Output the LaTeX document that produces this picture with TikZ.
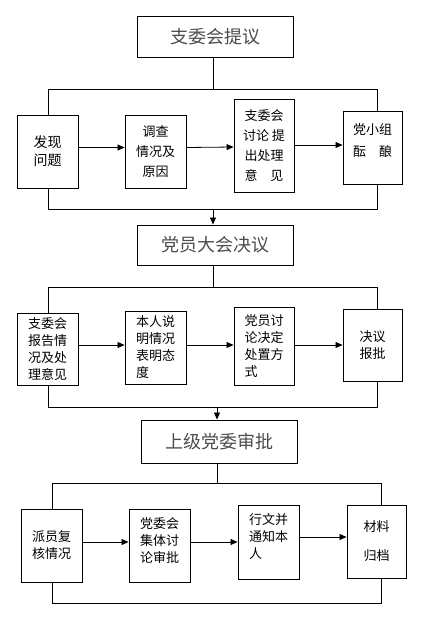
\documentclass[tikz,border=0pt]{standalone}
\usepackage{fontspec}
\newfontfamily\cjk{Noto Sans CJK SC}
\usetikzlibrary{arrows.meta}

\tikzset{
  title/.style={draw, line width=0.9pt, minimum width=156pt, inner sep=0pt,
    font=\cjk\fontsize{18}{20}\selectfont, text=black!70},
  stepbox/.style={draw, line width=0.9pt, inner sep=0pt, minimum width=61pt,
    font=\cjk\fontsize{13}{17}\selectfont},
  line/.style={line width=0.8pt},
  arr/.style={line width=0.8pt, -{Triangle[length=7pt,width=6pt]}},
}

\begin{document}
\begin{tikzpicture}[x=1pt,y=-1pt]
\useasboundingbox (0,0) rectangle (437,624);

% row 1
\node[title, minimum height=41pt] (t1) at (215,36.5) {支委会提议};

\node[stepbox, minimum height=73pt, font=\cjk\fontsize{14}{18}\selectfont, align=center] (a1) at (47.5,151.5) {发现\\问题};
\node[stepbox, minimum height=73pt, align=center, font=\cjk\fontsize{13}{20}\selectfont] (a2) at (155.5,151.5) {调查\\情况及\\原因};
\node[stepbox, minimum width=60pt, minimum height=93pt, align=center, font=\cjk\fontsize{13}{20}\selectfont] (a3) at (264,145.5) {支委会\\讨论~提\\出处理\\意\quad 见};
\node[stepbox, minimum width=59pt, minimum height=73pt, align=center, font=\cjk\fontsize{13}{22}\selectfont] (a4) at (372.5,147.5) {党小组\\酝\quad 酿\\[-8pt]~};

\coordinate (ul1) at (48,89);
\coordinate (ur1) at (377,89);
\coordinate (dl1) at (48,209);
\coordinate (dr1) at (377,209);
\coordinate (m1) at (213,209);

\draw[line] (t1.south -| m1) -- (m1 |- ul1);
\draw[line] (ul1 |- a1.north) -- (ul1) -- (ur1) -- (ur1 |- a4.north);
\draw[line] (dl1 |- a1.south) -- (dl1) -- (dr1) -- (dr1 |- a4.south);
\draw[arr] ([yshift=4pt]a1.east) -- ([yshift=4pt]a2.west);
\draw[arr] ([yshift=4pt]a2.east) -- (a3.west |- 0,147);
\draw[arr] (a3.east |- 0,145) -- (a4.west |- 0,145);

% row 2
\node[title, minimum height=40pt] (t2) at (215,245) {党员大会决议};
\draw[arr] (m1) -- (m1 |- t2.north);

\node[stepbox, minimum height=72pt, align=center] (b1) at (47.5,349) {支委会\\报告情\\况及处\\理意见};
\node[stepbox, minimum height=73pt, align=left] (b2) at (155.5,347.5) {本人说\\明情况\\表明态\\度};
\node[stepbox, minimum width=60pt, minimum height=78pt, align=left] (b3) at (264,346) {党员讨\\论决定\\处置方\\式};
\node[stepbox, minimum width=59pt, minimum height=72pt, align=left] (b4) at (372.5,345) {决议\\报批};

\coordinate (ul2) at (48,287);
\coordinate (ur2) at (377,287);
\coordinate (dl2) at (48,407);
\coordinate (dr2) at (377,407);
\coordinate (m2) at (217,407);

\draw[line] (t2.south -| m1) -- (m1 |- ul2);
\draw[line] (ul2 |- b1.north) -- (ul2) -- (ur2) -- (ur2 |- b4.north);
\draw[line] (dl2 |- b1.south) -- (dl2) -- (dr2) -- (dr2 |- b4.south);
\draw[arr] (b1.east |- 0,345) -- (b2.west |- 0,345);
\draw[arr] (b2.east |- 0,345) -- (b3.west |- 0,345);
\draw[arr] (b3.east |- 0,345) -- (b4.west |- 0,345);

% row 3
\node[title, minimum height=43pt] (t3) at (219,441.5) {上级党委审批};
\draw[arr] (m2) -- (m2 |- t3.north);

\node[stepbox, minimum height=73pt, align=left] (c1) at (51.5,545.5) {派员复\\核情况};
\node[stepbox, minimum height=73pt, align=left] (c2) at (159.5,545.5) {党委会\\集体讨\\论审批\\[-6pt]~};
\node[stepbox, minimum height=74pt, align=left] (c3) at (268.5,542) {行文并\\通知本\\人\\[-4pt]~};
\node[stepbox, minimum width=59pt, minimum height=73pt, align=center, font=\cjk\fontsize{13}{29}\selectfont] (c4) at (376.5,541.5) {材料\\归档};

\coordinate (ul3) at (52,483);
\coordinate (ur3) at (381,483);
\coordinate (dl3) at (52,603);
\coordinate (dr3) at (381,603);

\draw[line] (t3.south -| m2) -- (m2 |- ul3);
\draw[line] (ul3 |- c1.north) -- (ul3) -- (ur3) -- (ur3 |- c4.north);
\draw[line] (dl3 |- c1.south) -- (dl3) -- (dr3) -- (dr3 |- c4.south);
\draw[arr] (c1.east |- 0,542) -- (c2.west |- 0,542);
\draw[arr] (c2.east |- 0,542) -- (c3.west |- 0,542);
\draw[arr] (c3.east |- 0,537) -- (c4.west |- 0,537);

\end{tikzpicture}
\end{document}
